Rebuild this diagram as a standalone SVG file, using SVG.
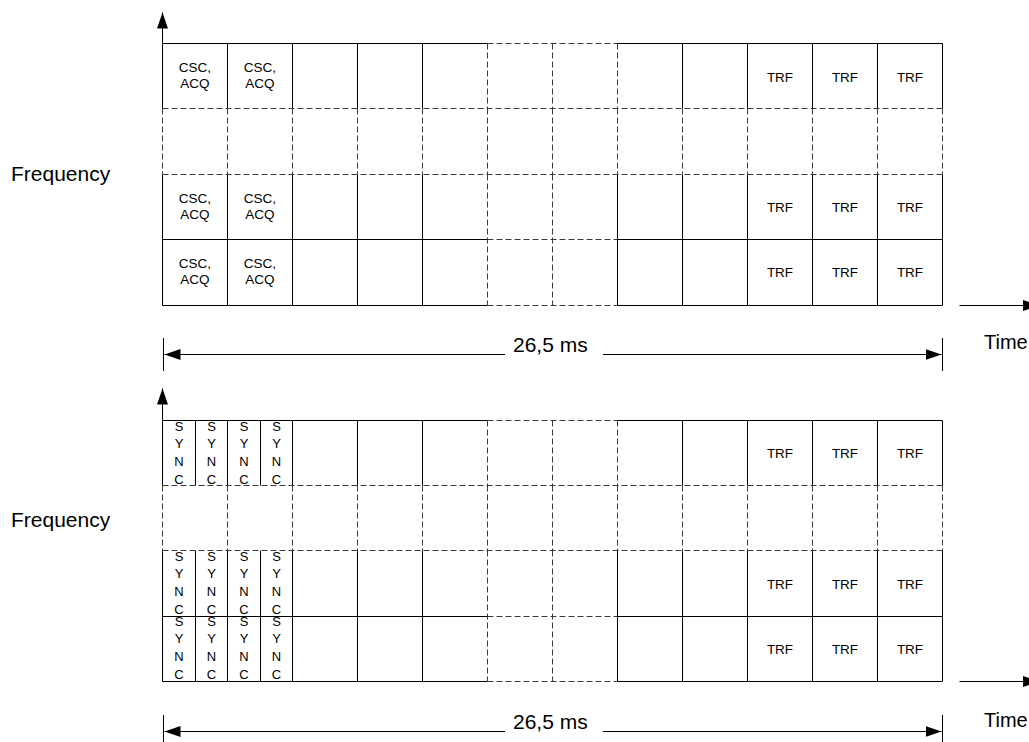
<svg xmlns="http://www.w3.org/2000/svg" width="1029" height="742" viewBox="0 0 1029 742">
<style>
text{font-family:"Liberation Sans",Arial,Helvetica,sans-serif;fill:#000}
.lbl{font-size:21px}
.tm{font-size:20px}
.c{font-size:13.5px;text-anchor:middle}
.s{font-size:13px;text-anchor:middle}
.solid{fill:none;stroke:#000;stroke-width:1}
.dash{fill:none;stroke:#3a3a3a;stroke-width:1;stroke-dasharray:6 3}
.ax{fill:none;stroke:#000;stroke-width:1}
</style>
<defs>
<marker id="ah" markerUnits="userSpaceOnUse" markerWidth="17" markerHeight="12" refX="16" refY="6" orient="auto">
<path d="M0 0.5L16 6L0 11.5Z" fill="#000"/>
</marker>
</defs>
<rect width="1029" height="742" fill="#fff"/>

<g id="labels">
<text class="lbl" x="11" y="181">Frequency</text>
<text class="lbl" x="11" y="527">Frequency</text>
<text class="tm" x="984" y="349">Time</text>
<text class="tm" x="984" y="727">Time</text>
<text class="lbl" x="513" y="352">26,5 ms</text>
<text class="lbl" x="513" y="729">26,5 ms</text>
</g>

<g id="top-grid">
<path class="solid" d="M162.5 43.5H487.5M617.5 43.5H942.5M162.5 239.5H487.5M617.5 239.5H942.5M162.5 305.5H487.5M617.5 305.5H942.5M162.5 43.5V108.5M227.5 43.5V108.5M292.5 43.5V108.5M357.5 43.5V108.5M422.5 43.5V108.5M682.5 43.5V108.5M747.5 43.5V108.5M812.5 43.5V108.5M877.5 43.5V108.5M942.5 43.5V108.5M162.5 174.5V305.5M227.5 174.5V305.5M292.5 174.5V305.5M357.5 174.5V305.5M422.5 174.5V305.5M617.5 174.5V305.5M682.5 174.5V305.5M747.5 174.5V305.5M812.5 174.5V305.5M877.5 174.5V305.5M942.5 174.5V305.5"/>
<path class="dash" d="M487.5 43.5H617.5M487.5 239.5H617.5M487.5 305.5H617.5M162.5 108.5H942.5M162.5 174.5H942.5M487.5 43.5V108.5M552.5 43.5V108.5M617.5 43.5V108.5M162.5 108.5V174.5M227.5 108.5V174.5M292.5 108.5V174.5M357.5 108.5V174.5M422.5 108.5V174.5M487.5 108.5V174.5M552.5 108.5V174.5M617.5 108.5V174.5M682.5 108.5V174.5M747.5 108.5V174.5M812.5 108.5V174.5M877.5 108.5V174.5M942.5 108.5V174.5M487.5 174.5V305.5M552.5 174.5V305.5"/>
</g>

<g id="top-cells">
<g id="t-r0-c0"><text class="c" x="195" y="72">CSC,</text><text class="c" x="195" y="88">ACQ</text></g>
<g id="t-r0-c1"><text class="c" x="260" y="72">CSC,</text><text class="c" x="260" y="88">ACQ</text></g>
<g id="t-r2-c0"><text class="c" x="195" y="203">CSC,</text><text class="c" x="195" y="219">ACQ</text></g>
<g id="t-r2-c1"><text class="c" x="260" y="203">CSC,</text><text class="c" x="260" y="219">ACQ</text></g>
<g id="t-r3-c0"><text class="c" x="195" y="268">CSC,</text><text class="c" x="195" y="284">ACQ</text></g>
<g id="t-r3-c1"><text class="c" x="260" y="268">CSC,</text><text class="c" x="260" y="284">ACQ</text></g>
<g id="t-r0-trf"><text class="c" x="780" y="81.5">TRF</text><text class="c" x="845" y="81.5">TRF</text><text class="c" x="910" y="81.5">TRF</text></g>
<g id="t-r2-trf"><text class="c" x="780" y="212">TRF</text><text class="c" x="845" y="212">TRF</text><text class="c" x="910" y="212">TRF</text></g>
<g id="t-r3-trf"><text class="c" x="780" y="277">TRF</text><text class="c" x="845" y="277">TRF</text><text class="c" x="910" y="277">TRF</text></g>
</g>

<g id="bottom-grid">
<path class="solid" d="M162.5 420.5H487.5M617.5 420.5H942.5M162.5 616.5H487.5M617.5 616.5H942.5M162.5 681.5H487.5M617.5 681.5H942.5M162.5 420.5V485.5M195.5 420.5V485.5M227.5 420.5V485.5M260.5 420.5V485.5M292.5 420.5V485.5M357.5 420.5V485.5M422.5 420.5V485.5M682.5 420.5V485.5M747.5 420.5V485.5M812.5 420.5V485.5M877.5 420.5V485.5M942.5 420.5V485.5M162.5 550.5V681.5M195.5 550.5V681.5M227.5 550.5V681.5M260.5 550.5V681.5M292.5 550.5V681.5M357.5 550.5V681.5M422.5 550.5V681.5M617.5 550.5V681.5M682.5 550.5V681.5M747.5 550.5V681.5M812.5 550.5V681.5M877.5 550.5V681.5M942.5 550.5V681.5"/>
<path class="dash" d="M487.5 420.5H617.5M487.5 616.5H617.5M487.5 681.5H617.5M162.5 485.5H942.5M162.5 550.5H942.5M487.5 420.5V485.5M552.5 420.5V485.5M617.5 420.5V485.5M162.5 485.5V550.5M227.5 485.5V550.5M292.5 485.5V550.5M357.5 485.5V550.5M422.5 485.5V550.5M487.5 485.5V550.5M552.5 485.5V550.5M617.5 485.5V550.5M682.5 485.5V550.5M747.5 485.5V550.5M812.5 485.5V550.5M877.5 485.5V550.5M942.5 485.5V550.5M487.5 550.5V681.5M552.5 550.5V681.5"/>
</g>

<g id="bottom-cells">
<g id="b-r0-sync">
<text class="s" x="179" y="430.5">S<tspan x="179" dy="17.7">Y</tspan><tspan x="179" dy="17.7">N</tspan><tspan x="179" dy="17.7">C</tspan></text>
<text class="s" x="211.5" y="430.5">S<tspan x="211.5" dy="17.7">Y</tspan><tspan x="211.5" dy="17.7">N</tspan><tspan x="211.5" dy="17.7">C</tspan></text>
<text class="s" x="244" y="430.5">S<tspan x="244" dy="17.7">Y</tspan><tspan x="244" dy="17.7">N</tspan><tspan x="244" dy="17.7">C</tspan></text>
<text class="s" x="276.5" y="430.5">S<tspan x="276.5" dy="17.7">Y</tspan><tspan x="276.5" dy="17.7">N</tspan><tspan x="276.5" dy="17.7">C</tspan></text>
</g>
<g id="b-r2-sync">
<text class="s" x="179" y="560.5">S<tspan x="179" dy="17.7">Y</tspan><tspan x="179" dy="17.7">N</tspan><tspan x="179" dy="17.7">C</tspan></text>
<text class="s" x="211.5" y="560.5">S<tspan x="211.5" dy="17.7">Y</tspan><tspan x="211.5" dy="17.7">N</tspan><tspan x="211.5" dy="17.7">C</tspan></text>
<text class="s" x="244" y="560.5">S<tspan x="244" dy="17.7">Y</tspan><tspan x="244" dy="17.7">N</tspan><tspan x="244" dy="17.7">C</tspan></text>
<text class="s" x="276.5" y="560.5">S<tspan x="276.5" dy="17.7">Y</tspan><tspan x="276.5" dy="17.7">N</tspan><tspan x="276.5" dy="17.7">C</tspan></text>
</g>
<g id="b-r3-sync">
<text class="s" x="179" y="625.5">S<tspan x="179" dy="17.7">Y</tspan><tspan x="179" dy="17.7">N</tspan><tspan x="179" dy="17.7">C</tspan></text>
<text class="s" x="211.5" y="625.5">S<tspan x="211.5" dy="17.7">Y</tspan><tspan x="211.5" dy="17.7">N</tspan><tspan x="211.5" dy="17.7">C</tspan></text>
<text class="s" x="244" y="625.5">S<tspan x="244" dy="17.7">Y</tspan><tspan x="244" dy="17.7">N</tspan><tspan x="244" dy="17.7">C</tspan></text>
<text class="s" x="276.5" y="625.5">S<tspan x="276.5" dy="17.7">Y</tspan><tspan x="276.5" dy="17.7">N</tspan><tspan x="276.5" dy="17.7">C</tspan></text>
</g>
<g id="b-r0-trf"><text class="c" x="780" y="458">TRF</text><text class="c" x="845" y="458">TRF</text><text class="c" x="910" y="458">TRF</text></g>
<g id="b-r2-trf"><text class="c" x="780" y="588.5">TRF</text><text class="c" x="845" y="588.5">TRF</text><text class="c" x="910" y="588.5">TRF</text></g>
<g id="b-r3-trf"><text class="c" x="780" y="654">TRF</text><text class="c" x="845" y="654">TRF</text><text class="c" x="910" y="654">TRF</text></g>
</g>

<g id="connectors">
<path class="ax" d="M162.5 43.5V12.5" marker-end="url(#ah)"/>
<path class="ax" d="M162.5 420.5V388.5" marker-end="url(#ah)"/>
<path class="ax" d="M959.5 305.5H1039" marker-end="url(#ah)"/>
<path class="ax" d="M959.5 681.5H1039" marker-end="url(#ah)"/>
<path class="ax" d="M163.5 338V371M942.5 338V371M163.5 715V749M942.5 715V749"/>
<path class="ax" d="M505 354.5H164.5" marker-end="url(#ah)"/>
<path class="ax" d="M603 354.5H941.5" marker-end="url(#ah)"/>
<path class="ax" d="M505 731.5H164.5" marker-end="url(#ah)"/>
<path class="ax" d="M603 731.5H941.5" marker-end="url(#ah)"/>
</g>
</svg>
